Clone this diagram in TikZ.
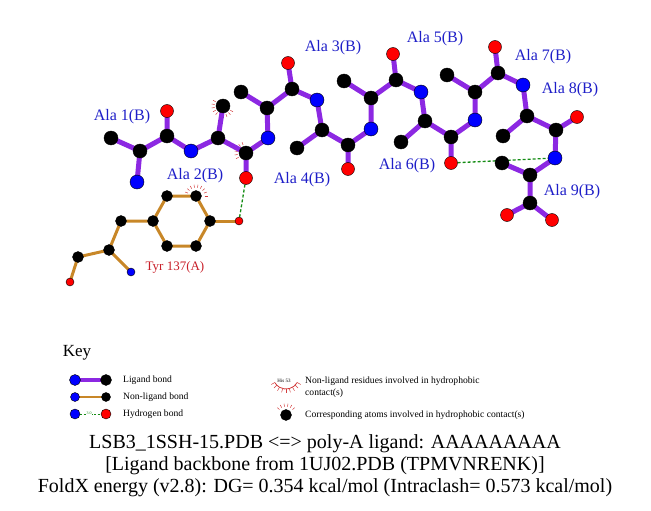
\documentclass[tikz,border=0pt]{standalone}
\usepackage{fontspec}
\setmainfont{Liberation Serif}
\usetikzlibrary{backgrounds}

\definecolor{ligbond}{RGB}{140,40,226}
\definecolor{nonligbond}{RGB}{200,135,40}
\definecolor{resblue}{RGB}{30,30,200}
\definecolor{resred}{RGB}{200,30,40}
\definecolor{hbgreen}{RGB}{20,140,20}
\definecolor{hydrored}{RGB}{210,60,60}

\tikzset{
  atom/.style={circle, inner sep=0pt, minimum size=14pt, draw=black, line width=0.4pt},
  catom/.style={atom, fill=black},
  natom/.style={atom, fill=blue},
  oatom/.style={atom, fill=red, minimum size=13pt},
  tcatom/.style={catom, minimum size=11pt},
  tnatom/.style={natom, minimum size=8pt},
  toatom/.style={oatom, minimum size=8pt},
  lbond/.style={ligbond, line width=5pt, line join=round},
  nlbond/.style={nonligbond, line width=3pt, line join=round},
  hbond/.style={hbgreen, line width=1.3pt, dash pattern=on 3pt off 2pt},
  hydro/.style={hydrored, line width=0.5pt},
  reslabel/.style={text=resblue, font=\fontsize{16}{18}\selectfont, inner sep=0pt},
  tyrlabel/.style={text=resred, font=\fontsize{13}{15}\selectfont, inner sep=0pt},
  keytext/.style={anchor=west, font=\fontsize{9.6}{11}\selectfont, inner sep=0pt},
  caption/.style={font=\fontsize{20}{23}\selectfont, inner sep=0pt}
}

% fan of short red strokes round an atom: node, first angle, second angle, last angle
\newcommand{\hydrofan}[4]{\foreach \ang in {#2,#3,...,#4} \draw[hydro] (#1.center) ++(\ang:8.5) -- ++(\ang:3);}

\begin{document}
\begin{tikzpicture}[x=1pt, y=-1pt]
    \useasboundingbox (0,0) rectangle (651,511);

    % ligand atoms
    \node (a1n) at (137,182) [natom] {};   \node (a1ca) at (140,151) [catom] {};
    \node (a1cb) at (111,138) [catom] {};  \node (a1c) at (167,136) [catom] {};
    \node (a1o) at (167,111) [oatom] {};
    \node (a2n) at (191,151) [natom] {};   \node (a2ca) at (218,138) [catom] {};
    \node (a2cb) at (223,106) [catom] {};  \node (a2c) at (246,153) [catom] {};
    \node (a2o) at (246,178) [oatom] {};
    \node (a3n) at (268,138) [natom] {};   \node (a3ca) at (267,108) [catom] {};
    \node (a3cb) at (241,92) [catom] {};   \node (a3c) at (292,89) [catom] {};
    \node (a3o) at (288,63) [oatom] {};
    \node (a4n) at (317,100) [natom] {};   \node (a4ca) at (322,130) [catom] {};
    \node (a4cb) at (297,148) [catom] {};  \node (a4c) at (348,145) [catom] {};
    \node (a4o) at (348,169) [oatom] {};
    \node (a5n) at (371,129) [natom] {};   \node (a5ca) at (371,98) [catom] {};
    \node (a5cb) at (344,81) [catom] {};   \node (a5c) at (396,80) [catom] {};
    \node (a5o) at (393,54) [oatom] {};
    \node (a6n) at (421,92) [natom] {};    \node (a6ca) at (425,121) [catom] {};
    \node (a6cb) at (401,142) [catom] {};  \node (a6c) at (451,137) [catom] {};
    \node (a6o) at (451,163) [oatom] {};
    \node (a7n) at (475,120) [natom] {};   \node (a7ca) at (475,92) [catom] {};
    \node (a7cb) at (447,75) [catom] {};   \node (a7c) at (498,73) [catom] {};
    \node (a7o) at (495,47) [oatom] {};
    \node (a8n) at (523,85) [natom] {};    \node (a8ca) at (527,116) [catom] {};
    \node (a8cb) at (503,136) [catom] {};  \node (a8c) at (556,130) [catom] {};
    \node (a8o) at (577,117) [oatom] {};
    \node (a9n) at (555,158) [natom] {};   \node (a9ca) at (530,175) [catom] {};
    \node (a9cb) at (502,163) [catom] {};  \node (a9c) at (530,203) [catom] {};
    \node (a9oa) at (507,215) [oatom] {};  \node (a9ob) at (552,220) [oatom] {};

    % Tyr 137 atoms
    \node (tn) at (131,272) [tnatom] {};   \node (tca) at (109,250) [tcatom] {};
    \node (tc) at (78,257) [tcatom] {};    \node (to) at (70,282) [toatom] {};
    \node (tcb) at (121,221) [tcatom] {};  \node (tcg) at (153,221) [tcatom] {};
    \node (tcda) at (167,196) [tcatom] {}; \node (tcea) at (196,196) [tcatom] {};
    \node (tcz) at (210,221) [tcatom] {};  \node (tceb) at (196,246) [tcatom] {};
    \node (tcdb) at (167,246) [tcatom] {}; \node (toh) at (239,221) [toatom] {};

    \begin{scope}[on background layer]
        \hydrofan{a2cb}{30}{50}{210}
        \hydrofan{a2c}{150}{170}{250}
        \hydrofan{tcea}{200}{220}{360}
        \draw[lbond] (a1n.center) -- (a1ca.center) -- (a1c.center) -- (a2n.center) (a1ca.center) -- (a1cb.center) (a1c.center) -- (a1o.center);
        \draw[lbond] (a2n.center) -- (a2ca.center) -- (a2c.center) -- (a3n.center) (a2ca.center) -- (a2cb.center) (a2c.center) -- (a2o.center);
        \draw[lbond] (a3n.center) -- (a3ca.center) -- (a3c.center) -- (a4n.center) (a3ca.center) -- (a3cb.center) (a3c.center) -- (a3o.center);
        \draw[lbond] (a4n.center) -- (a4ca.center) -- (a4c.center) -- (a5n.center) (a4ca.center) -- (a4cb.center) (a4c.center) -- (a4o.center);
        \draw[lbond] (a5n.center) -- (a5ca.center) -- (a5c.center) -- (a6n.center) (a5ca.center) -- (a5cb.center) (a5c.center) -- (a5o.center);
        \draw[lbond] (a6n.center) -- (a6ca.center) -- (a6c.center) -- (a7n.center) (a6ca.center) -- (a6cb.center) (a6c.center) -- (a6o.center);
        \draw[lbond] (a7n.center) -- (a7ca.center) -- (a7c.center) -- (a8n.center) (a7ca.center) -- (a7cb.center) (a7c.center) -- (a7o.center);
        \draw[lbond] (a8n.center) -- (a8ca.center) -- (a8c.center) -- (a9n.center) (a8ca.center) -- (a8cb.center) (a8c.center) -- (a8o.center);
        \draw[lbond] (a9n.center) -- (a9ca.center) -- (a9c.center) -- (a9oa.center) (a9ca.center) -- (a9cb.center) (a9c.center) -- (a9ob.center);
        \draw[nlbond] (tn.center) -- (tca.center) -- (tc.center) -- (to.center) (tca.center) -- (tcb.center) -- (tcg.center);
        \draw[nlbond] (tcg.center) -- (tcda.center) -- (tcea.center) -- (tcz.center) -- (tceb.center) -- (tcdb.center) -- cycle;
        \draw[nlbond] (tcz.center) -- (toh.center);
        \draw[hbond] (a2o) -- (toh);
        \draw[hbond] (a6o) -- (a9n);
    \end{scope}

    % residue labels
    \node (la1) at (122,117) [reslabel] {Ala 1(B)};
    \node (la2) at (195,176) [reslabel] {Ala 2(B)};
    \node (la3) at (333,48) [reslabel] {Ala 3(B)};
    \node (la4) at (302,180) [reslabel] {Ala 4(B)};
    \node (la5) at (435,39) [reslabel] {Ala 5(B)};
    \node (la6) at (407,166) [reslabel] {Ala 6(B)};
    \node (la7) at (543,57) [reslabel] {Ala 7(B)};
    \node (la8) at (570,90) [reslabel] {Ala 8(B)};
    \node (la9) at (572,192) [reslabel] {Ala 9(B)};
    \node (ltyr) at (175,267) [tyrlabel] {Tyr 137(A)};

    % key
    \node (key) at (77,353) [font=\fontsize{17}{19}\selectfont, inner sep=0pt] {Key};
    \node (kla) at (75,380) [natom, minimum size=11pt] {};
    \node (klb) at (106,380) [catom, minimum size=11pt] {};
    \node (kna) at (75,397) [natom, minimum size=9pt] {};
    \node (knb) at (106,397) [catom, minimum size=9pt] {};
    \node (kha) at (75,414) [natom, minimum size=10pt] {};
    \node (khb) at (106,414) [oatom, minimum size=10pt] {};
    \begin{scope}[on background layer]
        \draw[ligbond, line width=4.5pt] (kla.center) -- (klb.center);
        \draw[nonligbond, line width=2.5pt] (kna.center) -- (knb.center);
        \draw[hbgreen, line width=0.8pt, dash pattern=on 2pt off 1.5pt] (kha) -- (khb);
    \end{scope}
    \node (khd) at (89,413.5) [fill=white, inner sep=0.3pt, text=hbgreen, font=\fontsize{4}{4}\selectfont] {3.0};
    \node (klt) at (123,380) [keytext] {Ligand bond};
    \node (knt) at (123,397) [keytext] {Non-ligand bond};
    \node (kht) at (123,414) [keytext] {Hydrogen bond};

    \node (khis) at (284,381) [inner sep=0pt, font=\fontsize{5}{5}\selectfont] {His 53};
    \draw[hydrored, line width=0.8pt] (286,376) ++(30:13) arc[start angle=30, end angle=150, radius=13];
    \foreach \ang in {30,45,...,150} \draw[hydro] (286,376) ++(\ang:13) -- ++(\ang:4);
    \node (kct) at (286,415) [catom, minimum size=11pt] {};
    \hydrofan{kct}{220}{240}{320}
    \node (krt) at (305,381) [keytext] {Non-ligand residues involved in hydrophobic};
    \node (krt2) at (305,393) [keytext] {contact(s)};
    \node (kcor) at (305,415) [keytext] {Corresponding atoms involved in hydrophobic contact(s)};

    % caption
    \node (cap1) at (325,444) [caption] {LSB3\_1SSH-15.PDB <=> poly-A ligand: AAAAAAAAA};
    \node (cap2) at (325,466) [caption] {{[}Ligand backbone from 1UJ02.PDB (TPMVNRENK)]};
    \node (cap3) at (325,488) [caption] {FoldX energy (v2.8): DG= 0.354 kcal/mol (Intraclash= 0.573 kcal/mol)};
\end{tikzpicture}
\end{document}
